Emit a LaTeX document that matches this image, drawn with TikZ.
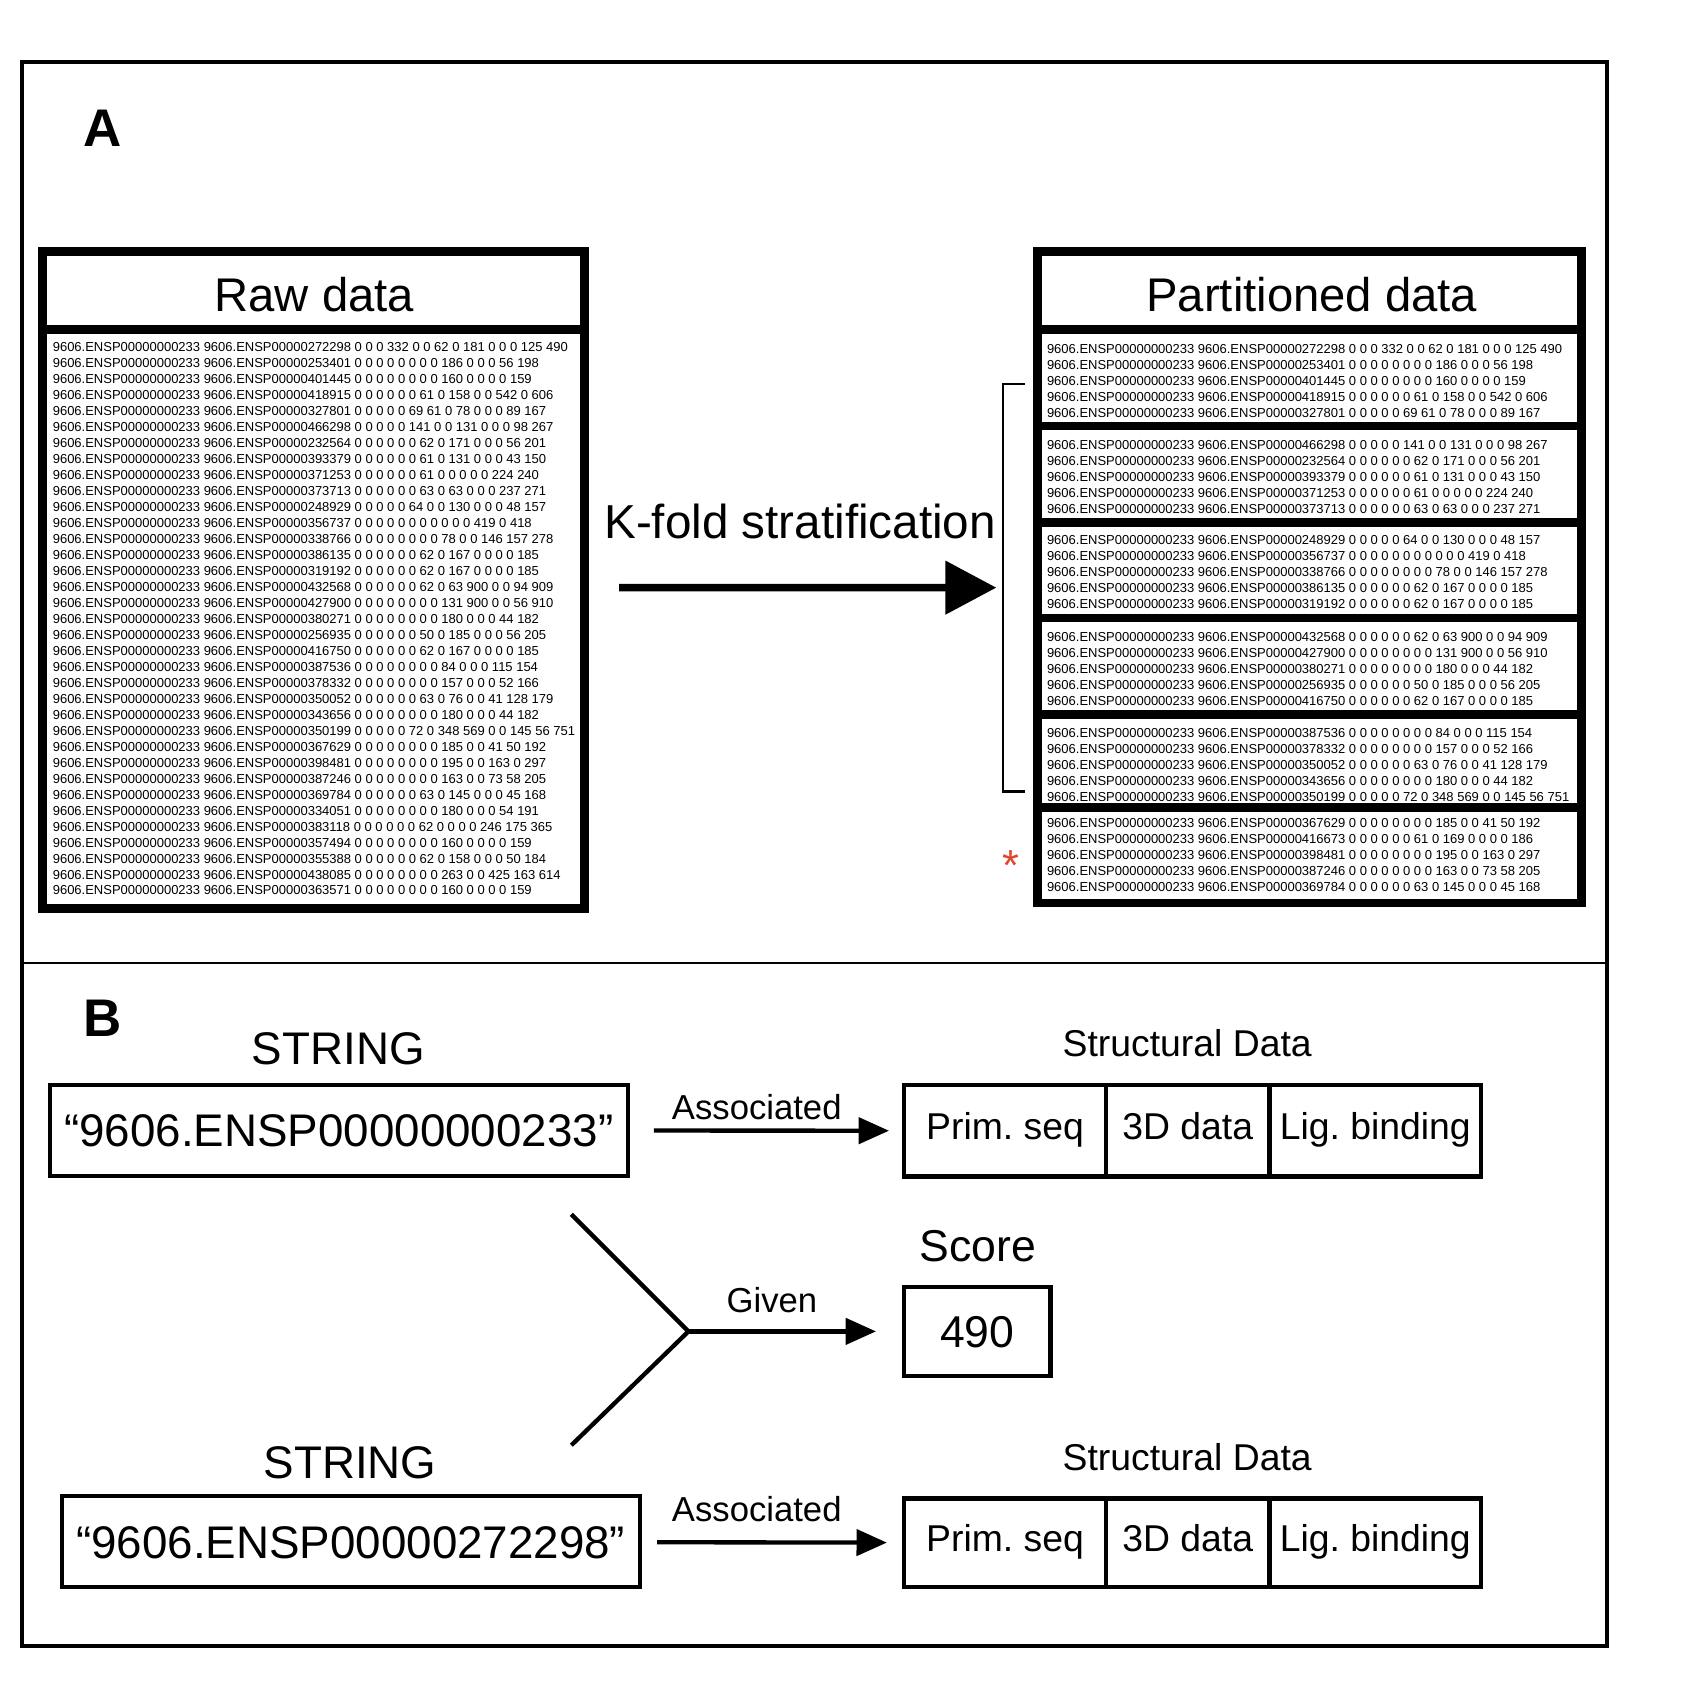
\documentclass[tikz,border=0pt]{standalone}
\usepackage{fontspec}
\setmainfont{Liberation Sans}
\usetikzlibrary{positioning, arrows.meta, calc}

\definecolor{starred}{RGB}{228,68,45}

% STRING rows (second protein / scores)
\def\rawlist{272298/0 0 0 332 0 0 62 0 181 0 0 0 125 490,
253401/0 0 0 0 0 0 0 0 186 0 0 0 56 198,
401445/0 0 0 0 0 0 0 0 160 0 0 0 0 159,
418915/0 0 0 0 0 0 61 0 158 0 0 542 0 606,
327801/0 0 0 0 0 69 61 0 78 0 0 0 89 167,
466298/0 0 0 0 0 141 0 0 131 0 0 0 98 267,
232564/0 0 0 0 0 0 62 0 171 0 0 0 56 201,
393379/0 0 0 0 0 0 61 0 131 0 0 0 43 150,
371253/0 0 0 0 0 0 61 0 0 0 0 0 224 240,
373713/0 0 0 0 0 0 63 0 63 0 0 0 237 271,
248929/0 0 0 0 0 64 0 0 130 0 0 0 48 157,
356737/0 0 0 0 0 0 0 0 0 0 0 419 0 418,
338766/0 0 0 0 0 0 0 0 78 0 0 146 157 278,
386135/0 0 0 0 0 0 62 0 167 0 0 0 0 185,
319192/0 0 0 0 0 0 62 0 167 0 0 0 0 185,
432568/0 0 0 0 0 0 62 0 63 900 0 0 94 909,
427900/0 0 0 0 0 0 0 0 131 900 0 0 56 910,
380271/0 0 0 0 0 0 0 0 180 0 0 0 44 182,
256935/0 0 0 0 0 0 50 0 185 0 0 0 56 205,
416750/0 0 0 0 0 0 62 0 167 0 0 0 0 185,
387536/0 0 0 0 0 0 0 0 84 0 0 0 115 154,
378332/0 0 0 0 0 0 0 0 157 0 0 0 52 166,
350052/0 0 0 0 0 0 63 0 76 0 0 41 128 179,
343656/0 0 0 0 0 0 0 0 180 0 0 0 44 182,
350199/0 0 0 0 0 72 0 348 569 0 0 145 56 751,
367629/0 0 0 0 0 0 0 0 185 0 0 41 50 192,
398481/0 0 0 0 0 0 0 0 195 0 0 163 0 297,
387246/0 0 0 0 0 0 0 0 163 0 0 73 58 205,
369784/0 0 0 0 0 0 63 0 145 0 0 0 45 168,
334051/0 0 0 0 0 0 0 0 180 0 0 0 54 191,
383118/0 0 0 0 0 0 62 0 0 0 0 246 175 365,
357494/0 0 0 0 0 0 0 0 160 0 0 0 0 159,
355388/0 0 0 0 0 0 62 0 158 0 0 0 50 184,
438085/0 0 0 0 0 0 0 0 263 0 0 425 163 614,
363571/0 0 0 0 0 0 0 0 160 0 0 0 0 159}

\def\partlist{272298/0 0 0 332 0 0 62 0 181 0 0 0 125 490,
253401/0 0 0 0 0 0 0 0 186 0 0 0 56 198,
401445/0 0 0 0 0 0 0 0 160 0 0 0 0 159,
418915/0 0 0 0 0 0 61 0 158 0 0 542 0 606,
327801/0 0 0 0 0 69 61 0 78 0 0 0 89 167,
466298/0 0 0 0 0 141 0 0 131 0 0 0 98 267,
232564/0 0 0 0 0 0 62 0 171 0 0 0 56 201,
393379/0 0 0 0 0 0 61 0 131 0 0 0 43 150,
371253/0 0 0 0 0 0 61 0 0 0 0 0 224 240,
373713/0 0 0 0 0 0 63 0 63 0 0 0 237 271,
248929/0 0 0 0 0 64 0 0 130 0 0 0 48 157,
356737/0 0 0 0 0 0 0 0 0 0 0 419 0 418,
338766/0 0 0 0 0 0 0 0 78 0 0 146 157 278,
386135/0 0 0 0 0 0 62 0 167 0 0 0 0 185,
319192/0 0 0 0 0 0 62 0 167 0 0 0 0 185,
432568/0 0 0 0 0 0 62 0 63 900 0 0 94 909,
427900/0 0 0 0 0 0 0 0 131 900 0 0 56 910,
380271/0 0 0 0 0 0 0 0 180 0 0 0 44 182,
256935/0 0 0 0 0 0 50 0 185 0 0 0 56 205,
416750/0 0 0 0 0 0 62 0 167 0 0 0 0 185,
387536/0 0 0 0 0 0 0 0 84 0 0 0 115 154,
378332/0 0 0 0 0 0 0 0 157 0 0 0 52 166,
350052/0 0 0 0 0 0 63 0 76 0 0 41 128 179,
343656/0 0 0 0 0 0 0 0 180 0 0 0 44 182,
350199/0 0 0 0 0 72 0 348 569 0 0 145 56 751,
367629/0 0 0 0 0 0 0 0 185 0 0 41 50 192,
416673/0 0 0 0 0 0 61 0 169 0 0 0 0 186,
398481/0 0 0 0 0 0 0 0 195 0 0 163 0 297,
387246/0 0 0 0 0 0 0 0 163 0 0 73 58 205,
369784/0 0 0 0 0 0 63 0 145 0 0 0 45 168}

\begin{document}
\begin{tikzpicture}[x=0.1mm, y=-0.1mm,
    txt/.style={inner sep=0pt, text depth=0pt},
    panel/.style={txt, font=\bfseries\fontsize{13.9}{16}\selectfont, text height=10pt},
    bigtext/.style={txt, font=\fontsize{12}{14}\selectfont, text height=8.6pt},
    titletext/.style={txt, font=\fontsize{12.4}{15}\selectfont, text height=8.9pt},
    midtext/.style={txt, font=\fontsize{9.8}{12}\selectfont, text height=7.05pt},
    smalltext/.style={txt, font=\fontsize{9.1}{11}\selectfont, text height=6.55pt},
    dataline/.style={txt, anchor=west, font=\fontsize{3.41}{4}\selectfont, text height=2.46pt},
    databox/.style={draw, line width=0.8mm, outer sep=0pt},
    idbox/.style={draw, line width=0.4mm, outer sep=0pt, bigtext, minimum width=53.3mm, minimum height=8.4mm},
    cell/.style={draw, line width=0.4mm, outer sep=0pt, midtext, text depth=2.3pt, minimum height=8.4mm},
    arr/.style={line width=0.4mm, -{Triangle[length=2.8mm, width=2.4mm]}},
    bigarr/.style={line width=0.7mm, -{Triangle[length=4.7mm, width=4.8mm]}}]
  \useasboundingbox (0,0) rectangle (1568,1568);

  % Frame
  \draw[line width=0.35mm] (20,57) rectangle (1482,1518);
  \draw[line width=0.2mm] (20,888) -- (1482,888);

  % Panel A
  \node[panel] (labA) at (95,118) {A};
  \node[databox, minimum width=50mm, minimum height=60.6mm] (rawbox) at (289,535) {};
  \draw[line width=0.8mm] ([yshift=-7.2mm]rawbox.north west) -- ([yshift=-7.2mm]rawbox.north east);
  \node[titletext] (rawtitle) at (290,272) {Raw data};
  \foreach \prot/\scores [count=\n] in \rawlist
  \node[dataline] (raw\n) at (48,{320+(\n-1)*14.74}) {9606.ENSP00000000233 9606.ENSP00000\prot{} \scores};

  \node[databox, minimum width=50.2mm, minimum height=60.1mm] (partbox) at (1208,532.5) {};
  \foreach \off in {7.2,16.1,25.0,33.8,42.7,51.3}
  \draw[line width=0.8mm] ([yshift=-\off mm]partbox.north west) -- ([yshift=-\off mm]partbox.north east);
  \node[titletext] (parttitle) at (1210,272) {Partitioned data};
  \foreach \prot/\scores [count=\n] in \partlist {
    \pgfmathsetmacro\grp{int((\n-1)/5)}
    \pgfmathsetmacro\row{\n-1-5*\grp}
    \pgfmathsetmacro\ys{{322,410,498,587,676,759}[\grp]+\row*14.75}
    \node[dataline] (part\n) at (965,\ys) {9606.ENSP00000000233 9606.ENSP00000\prot{} \scores};
  }

  % Folds
  \draw[line width=0.2mm] (945,354) -- (925,354) -- (925,730) -- (945,730);
  \node[txt, text=starred, font=\fontsize{11.4}{12}\selectfont, text height=8.2pt] (star) at (932,798) {*};

  \node[txt, font=\fontsize{12.5}{15}\selectfont, text height=9pt] (kfold) at (738,481) {K-fold stratification};
  \draw[bigarr, shorten <=3.2mm, shorten >=3.8mm] ([yshift=-0.7mm]rawbox.east) -- ([yshift=-0.95mm]partbox.west);

  % Panel B
  \node[panel] (labB) at (95,938) {B};

  \node[bigtext] (str1) at (312,967) {STRING};
  \node[idbox] (id1) at (312.5,1042.5) {“9606.ENSP00000000233”};
  \node[midtext] (sdlab1) at (1095,962) {Structural Data};
  \node[cell, minimum width=18.6mm] (prim1) at (927,1043) {Prim.\ seq};
  \node[cell, minimum width=15.1mm, right=0pt of prim1] (td1) {3D data};
  \node[cell, minimum width=19.5mm, right=0pt of td1] (lig1) {Lig.\ binding};
  \node[smalltext] (assoc1) at (698,1021) {Associated};
  \draw[arr, shorten <=2.4mm, shorten >=1.4mm] (id1) -- (prim1);

  \coordinate (fork) at (635,1228);
  \coordinate (forktop) at (527,1120);
  \coordinate (forkbot) at (527,1333);
  \draw[line width=0.4mm] (forktop) -- (fork) -- (forkbot);
  \node[bigtext, font=\fontsize{11.7}{14}\selectfont] (scorelab) at (902,1148) {Score};
  \node[draw, line width=0.4mm, outer sep=0pt, bigtext, font=\fontsize{11.7}{14}\selectfont,
        minimum width=13.5mm, minimum height=8.2mm] (score) at (901.5,1228) {490};
  \node[smalltext] (given) at (712,1199) {Given};
  \draw[arr, shorten >=2.6mm] (fork) -- (score);

  \node[bigtext] (str2) at (323,1349) {STRING};
  \node[idbox] (id2) at (323.5,1422) {“9606.ENSP00000272298”};
  \node[midtext] (sdlab2) at (1095,1344) {Structural Data};
  \node[cell, minimum width=18.6mm, minimum height=8.2mm] (prim2) at (927,1423) {Prim.\ seq};
  \node[cell, minimum width=15.1mm, minimum height=8.2mm, right=0pt of prim2] (td2) {3D data};
  \node[cell, minimum width=19.5mm, minimum height=8.2mm, right=0pt of td2] (lig2) {Lig.\ binding};
  \node[smalltext] (assoc2) at (698,1392) {Associated};
  \draw[arr, shorten <=1.6mm, shorten >=1.6mm] (id2) -- (prim2);
\end{tikzpicture}
\end{document}
